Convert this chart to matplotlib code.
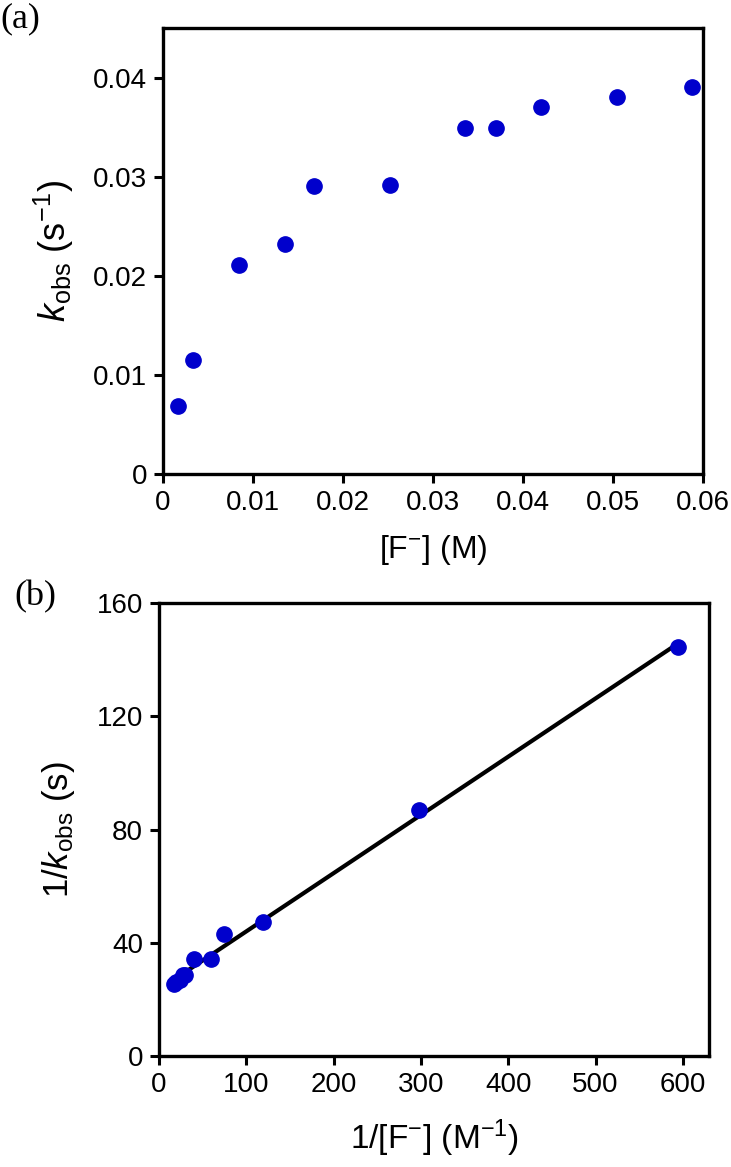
import numpy as np
import matplotlib
matplotlib.use("Agg")
import matplotlib.pyplot as plt

plt.rcParams['font.family'] = ['Liberation Sans', 'DejaVu Sans']
plt.rcParams['mathtext.fontset'] = 'custom'
plt.rcParams['mathtext.rm'] = 'Liberation Sans'
plt.rcParams['mathtext.it'] = 'Liberation Sans:italic'

# (a) k_obs vs [F-]
conc_F = [0.00168, 0.00336, 0.0084, 0.0135, 0.0168, 0.0252,
          0.0336, 0.0370, 0.0420, 0.0504, 0.0588]
k_obs = [0.0069, 0.0115, 0.0211, 0.0232, 0.0291, 0.0292,
         0.0349, 0.0349, 0.0370, 0.0380, 0.0390]

# (b) double reciprocal plot
inv_F = [595, 298, 119, 74, 59.5, 39.7, 29.8, 27.0, 23.8, 19.8, 17.0]
inv_k = [144.5, 87.0, 47.4, 43.2, 34.4, 34.3, 28.7, 28.7, 27.0, 26.3, 25.6]

xticks_a = [0, 0.01, 0.02, 0.03, 0.04, 0.05, 0.06]
xtick_labels_a = ['0', '0.01', '0.02', '0.03', '0.04', '0.05', '0.06']
yticks_a = [0, 0.01, 0.02, 0.03, 0.04]
ytick_labels_a = ['0', '0.01', '0.02', '0.03', '0.04']
xticks_b = [0, 100, 200, 300, 400, 500, 600]
yticks_b = [0, 40, 80, 120, 160]

blue = '#0000cc'

fig = plt.figure(figsize=(7.31, 11.67), dpi=100)
ax1 = fig.add_axes([0.2230, 0.5938, 0.7387, 0.3822])
ax2 = fig.add_axes([0.2175, 0.0947, 0.7524, 0.3886])

for ax in (ax1, ax2):
    for s in ax.spines.values():
        s.set_linewidth(2.4)
    ax.tick_params(direction='out', length=6.5, width=2.2, labelsize=20, pad=5)

# panel a
ax1.plot(conc_F, k_obs, 'o', color=blue, markersize=11, clip_on=False, zorder=3)
ax1.set_xlim(0, 0.06)
ax1.set_ylim(0, 0.045)
ax1.set_xticks(xticks_a)
ax1.set_xticklabels(xtick_labels_a)
ax1.set_yticks(yticks_a)
ax1.set_yticklabels(ytick_labels_a)
ax1.set_xlabel(r'[F$^{-}$] (M)', fontsize=23, labelpad=12)
ax1.set_ylabel(r'$k_{\rm obs}$ (s$^{-1}$)', fontsize=26, labelpad=12)

# panel b with linear fit
slope, intercept = np.polyfit(inv_F, inv_k, 1)
xfit = np.array([min(inv_F), max(inv_F)])
ax2.plot(xfit, slope * xfit + intercept, '-', color='black', linewidth=3, zorder=2)
ax2.plot(inv_F, inv_k, 'o', color=blue, markersize=11, clip_on=False, zorder=3)
ax2.set_xlim(0, 630)
ax2.set_ylim(0, 160)
ax2.set_xticks(xticks_b)
ax2.set_yticks(yticks_b)
ax2.set_xlabel(r'1/[F$^{-}$] (M$^{-1}$)', fontsize=24, labelpad=14)
ax2.set_ylabel(r'1/$k_{\rm obs}$ (s)', fontsize=25, labelpad=14)

fig.text(0.028, 0.984, '(a)', fontsize=26, family='Liberation Serif',
         ha='center', va='center')
fig.text(0.048, 0.489, '(b)', fontsize=26, family='Liberation Serif',
         ha='center', va='center')

fig.savefig('out.png', dpi=100)
